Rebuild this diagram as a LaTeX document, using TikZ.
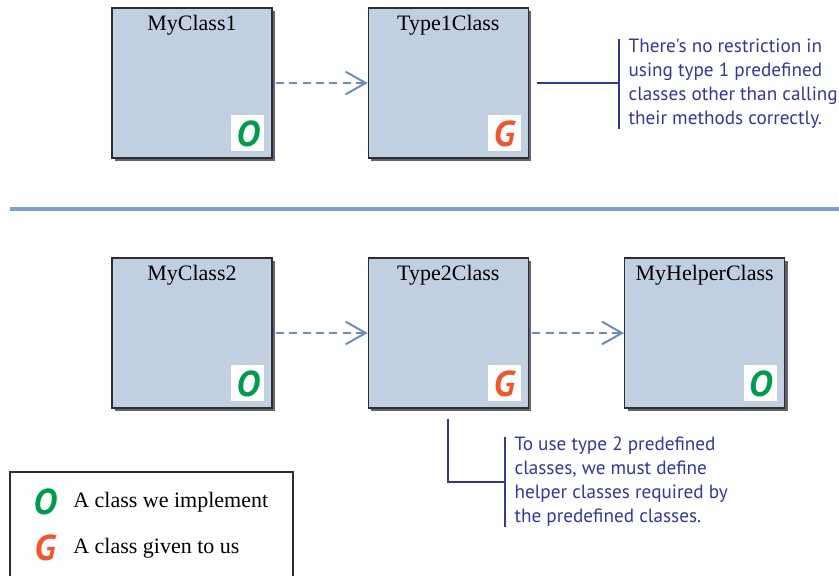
\documentclass[tikz,border=0pt]{standalone}
\usepackage{fontspec}
\setmainfont{Liberation Serif}
\newfontfamily\notefont{PT Sans}
\usetikzlibrary{positioning,shadows,arrows.meta}

\definecolor{clsfill}{RGB}{193,208,224}
\definecolor{clsline}{RGB}{45,45,50}
\definecolor{clsshadow}{RGB}{95,100,110}
\definecolor{cdash}{RGB}{110,140,185}
\definecolor{cnote}{RGB}{50,55,160}
\definecolor{csep}{RGB}{125,158,208}
\definecolor{cgreen}{RGB}{0,155,75}
\definecolor{corange}{RGB}{240,85,45}
\tikzset{classdiag/.style={x=0.75pt,y=-0.75pt,font=\fontsize{16.5}{20}\selectfont}}
\tikzset{classbox/.style={draw=clsline,fill=clsfill,line width=1pt,minimum width=120pt,minimum height=112.5pt,inner sep=0pt,
           drop shadow={shadow xshift=2.25pt,shadow yshift=-2.25pt,fill=clsshadow,opacity=1}},
         clsname/.style={anchor=north,inner sep=0pt,yshift=-6pt},
         tag/.style={fill=white,minimum width=24.75pt,minimum height=27pt,inner sep=0pt,
           font=\notefont\bfseries\itshape\fontsize{27}{27}\selectfont},
         uses/.style={cdash,line width=1.5pt,dash pattern=on 6pt off 4pt,-{Straight Barb[length=15pt,width=17pt]}},
         callout/.style={cnote,line width=1.5pt},
         note/.style={cnote,anchor=west,align=left,inner xsep=7pt,inner ysep=0pt,font=\notefont\fontsize{14.4}{18}\selectfont}}

\begin{document}
\begin{tikzpicture}[classdiag]
    \useasboundingbox (0,0) rectangle (839,575);
    % type 1
    \node[classbox] (my1) at (192,83) {};
    \node[classbox,right=71.25pt of my1] (t1) {};
    % type 2
    \node[classbox] (my2) at (192,333) {};
    \node[classbox,right=71.25pt of my2] (t2) {};
    \node[classbox,right=71.25pt of t2] (help) {};
    \foreach \b/\t in {my1/MyClass1,t1/Type1Class,my2/MyClass2,t2/Type2Class,help/MyHelperClass}
        \node[clsname] (\b n) at (\b.north) {\t};
    \foreach \b/\c/\l in {my1/cgreen/O,t1/corange/G,my2/cgreen/O,t2/corange/G,help/cgreen/O}
        \node[tag,text=\c,anchor=south east] (\b t) at ([shift={(-6pt,5.25pt)}]\b.south east) {\l};
    \draw[uses] ([xshift=2.5pt]my1.east) -- (t1.west);
    \draw[uses] ([xshift=2.5pt]my2.east) -- (t2.west);
    \draw[uses] ([xshift=2.5pt]t2.east) -- (help.west);
    \draw[csep,line width=3pt] (10,209) -- (839,209);
    % notes
    \node[note] (note1) at (619,84) {There's no restriction in\\using type 1 predefined\\classes other than calling\\their methods correctly.};
    \draw[callout] (note1.north west) -- (note1.south west);
    \draw[callout] ([xshift=6pt]t1.east) -- (t1.east -| note1.west);
    \node[note] (note2) at (505,482) {To use type 2 predefined\\classes, we must define\\helper classes required by\\the predefined classes.};
    \draw[callout] (note2.north west) -- (note2.south west);
    \draw[callout] ([yshift=-7.5pt]t2.south) |- (note2.west);
    % key
    \draw[clsline,line width=1pt] (10,580) |- (293,472) -- (293,580);
    \node[tag,fill=none,text=cgreen] (keyo) at (45,502) {O};
    \node[anchor=west,inner sep=0pt] (keyon) at (73,502) {A class we implement};
    \node[tag,fill=none,text=corange] (keyg) at (45,548) {G};
    \node[anchor=west,inner sep=0pt] (keygn) at (73,548) {A class given to us};
\end{tikzpicture}
\end{document}
